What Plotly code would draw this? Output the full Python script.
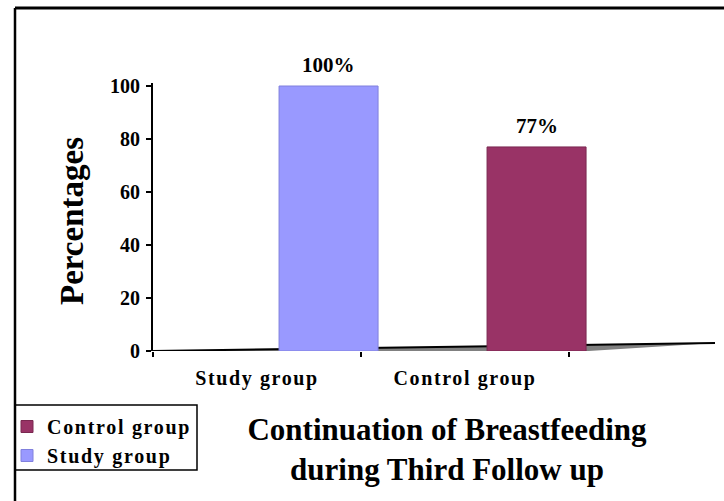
import plotly.graph_objects as go

# Breastfeeding continuation at the third follow-up visit
categories = ["Study group", "Control group"]
values = [100, 77]
bar_colors = ["#9999FF", "#993366"]
edge_colors = ["#8080DD", "#7A2850"]
y_ticks = [0, 20, 40, 60, 80, 100]

SERIF = "Liberation Serif, Times New Roman, serif"

W, H = 724, 501
ML, MR, MT, MB = 153, 9, 83, 150
PW, PH = W - ML - MR, H - MT - MB
Y_MAX = PH / 2.65  # value range shown on the y axis


def px_x(px):
    return (px - ML) / PW


def px_y(py):
    return (H - MB - py) / PH


BAR_OFFSET = 0.106
BAR_WIDTH = 0.476

fig = go.Figure()
for cat, val, col, edge in zip(categories, values, bar_colors, edge_colors):
    fig.add_trace(go.Bar(
        x=[cat], y=[val], name=cat,
        offset=BAR_OFFSET, width=BAR_WIDTH,
        marker=dict(color=col, line=dict(color=edge, width=1)),
        legendgroup=cat,
        hoverinfo="skip",
    ))

# value labels above each bar
for i, val in enumerate(values):
    fig.add_annotation(
        x=i + BAR_OFFSET + BAR_WIDTH / 2, y=val, xref="x", yref="y",
        text=f"{val}%", showarrow=False, yanchor="bottom", yshift=7,
        font=dict(family=SERIF, size=21, color="black", weight="bold"),
    )

# y-axis title
fig.add_annotation(
    x=px_x(72), y=px_y(221), xref="paper", yref="paper",
    text="Percentages", textangle=-90, showarrow=False,
    xanchor="center", yanchor="middle",
    font=dict(family=SERIF, size=33, color="black", weight="bold"),
)

shapes = []
# thin perspective floor under the bars
floor_rise = 8 / 2.65
shapes.append(dict(
    type="path", xref="x domain", yref="y", layer="below",
    path=f"M 0,0 L 1,{floor_rise:.3f} L {px_x(570):.4f},-0.45 L 0,-0.45 Z",
    fillcolor="#808080", line=dict(width=0),
))
shapes.append(dict(
    type="line", xref="x domain", yref="y", layer="below",
    x0=0, y0=0, x1=1, y1=floor_rise, line=dict(color="black", width=2),
))
# outer frame (left and top edges)
shapes.append(dict(type="line", xref="paper", yref="paper",
                   x0=px_x(15), y0=px_y(8), x1=px_x(740), y1=px_y(8),
                   line=dict(color="black", width=3)))
shapes.append(dict(type="line", xref="paper", yref="paper",
                   x0=px_x(15), y0=px_y(8), x1=px_x(15), y1=px_y(520),
                   line=dict(color="black", width=2.5)))
# legend box
shapes.append(dict(type="rect", xref="paper", yref="paper",
                   x0=px_x(15), y0=px_y(405), x1=px_x(197), y1=px_y(470),
                   line=dict(color="black", width=1.5), fillcolor="rgba(0,0,0,0)"))

fig.update_layout(
    width=W, height=H,
    margin=dict(l=ML, r=MR, t=MT, b=MB, autoexpand=False),
    paper_bgcolor="white", plot_bgcolor="white",
    barmode="overlay",
    shapes=shapes,
    showlegend=True,
    legend=dict(
        traceorder="reversed", tracegroupgap=6,
        xref="container", yref="container",
        x=7 / W, y=1 - 407 / H, xanchor="left", yanchor="top",
        bgcolor="rgba(0,0,0,0)", borderwidth=0,
        itemwidth=30,
        font=dict(family=SERIF, size=20, color="black", weight="bold"),
    ),
    title=dict(
        text="Continuation of Breastfeeding<br>during Third Follow up",
        xref="container", yref="container",
        x=447 / W, y=1 - 440 / H, xanchor="center", yanchor="top",
        font=dict(family=SERIF, size=31, color="black", weight="bold"),
    ),
    xaxis=dict(
        type="category", categoryorder="array", categoryarray=categories,
        range=[-0.5, -0.5 + PW / 208.0], automargin=False,
        tickson="boundaries", ticks="outside", ticklen=5, tickwidth=2,
        tickcolor="black", showline=False, showgrid=False, zeroline=False,
        ticklabelstandoff=13,
        tickfont=dict(family=SERIF, size=20, color="black", weight="bold"),
    ),
    yaxis=dict(
        range=[0, Y_MAX], tickvals=y_ticks, automargin=False,
        ticks="outside", ticklen=5, tickwidth=2, tickcolor="black",
        showline=True, linewidth=2, linecolor="black",
        showgrid=False, zeroline=False,
        ticklabelstandoff=2,
        tickfont=dict(family=SERIF, size=20, color="black", weight="bold"),
    ),
)

# widen the tracking of the category and legend labels
spacing_js = """
var gd = document.getElementsByClassName('plotly-graph-div')[0];
function track() {
  gd.querySelectorAll('.xtick text').forEach(function (t) { t.setAttribute('letter-spacing', '1.6px'); });
  gd.querySelectorAll('.legendtext').forEach(function (t) { t.setAttribute('letter-spacing', '1.7px'); });
  gd.querySelectorAll('.legend [clip-path]').forEach(function (e) { e.removeAttribute('clip-path'); });
}
track();
gd.on('plotly_afterplot', track);
"""

fig.write_html("out.html", post_script=spacing_js)
